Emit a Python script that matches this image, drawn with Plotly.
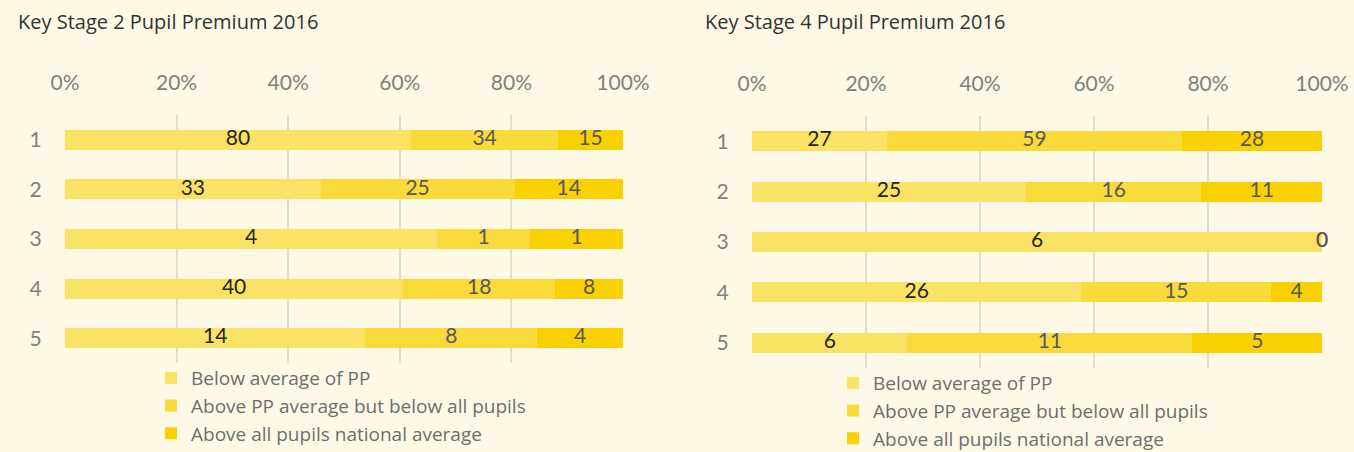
import plotly.graph_objects as go

categories = ["1", "2", "3", "4", "5"]
series_names = ["Below average of PP",
                "Above PP average but below all pupils",
                "Above all pupils national average"]
ks2_below = [80, 33, 4, 40, 14]
ks2_above_pp = [34, 25, 1, 18, 8]
ks2_above_all = [15, 14, 1, 8, 4]
ks4_below = [27, 25, 6, 26, 6]
ks4_above_pp = [59, 16, 0, 15, 11]
ks4_above_all = [28, 11, 0, 4, 5]
tick_vals = [0, 20, 40, 60, 80, 100]
tick_text = ["0%", "20%", "40%", "60%", "80%", "100%"]
titles = ["Key Stage 2 Pupil Premium 2016", "Key Stage 4 Pupil Premium 2016"]

colors = ["#FAE265", "#F9DA3B", "#F9D000"]
label_colors = ["#262626", "#595959", "#595959"]
BG = "#FEF9E7"
GRID = "#E2DDCC"
FONT = "Lato"
W, H = 1354, 452

fig = go.Figure()


def add_chart(series, xa, ya, legend):
    totals = [sum(v) for v in zip(*series)]
    cum = [0.0] * len(categories)
    for i, (name, vals) in enumerate(zip(series_names, series)):
        pct = [v / t * 100 for v, t in zip(vals, totals)]
        mids = [c + p / 2 for c, p in zip(cum, pct)]
        cum = [c + p for c, p in zip(cum, pct)]
        fig.add_trace(go.Bar(
            y=categories, x=pct, orientation="h", name=name,
            marker=dict(color=colors[i], line=dict(width=0)),
            xaxis=xa, yaxis=ya, legend=legend, hoverinfo="skip",
        ))
        fig.add_trace(go.Scatter(
            y=categories, x=mids, mode="text", text=[str(v) for v in vals],
            textposition="middle center",
            textfont=dict(family=FONT, size=21, color=label_colors[i]),
            xaxis=xa, yaxis=ya, showlegend=False, cliponaxis=False,
            hoverinfo="skip",
        ))


add_chart([ks2_below, ks2_above_pp, ks2_above_all], "x", "y", "legend")
add_chart([ks4_below, ks4_above_pp, ks4_above_all], "x2", "y2", "legend2")


def xaxis(x0, x1, anchor):
    return dict(domain=[x0 / W, x1 / W], range=[0, 100], anchor=anchor,
                side="top", tickvals=tick_vals, ticktext=tick_text,
                showgrid=True, gridcolor=GRID, gridwidth=1.5,
                zeroline=False, showline=False, automargin=False,
                ticks="outside", ticklen=16, tickcolor="rgba(0,0,0,0)",
                tickfont=dict(family=FONT, size=21, color="#808080"),
                fixedrange=True)


def yaxis(y0, y1, anchor):
    return dict(domain=[1 - y1 / H, 1 - y0 / H], anchor=anchor,
                range=[len(categories) - 0.5, -0.5], type="category",
                showgrid=False, zeroline=False, showline=False,
                automargin=False,
                ticks="outside", ticklen=18, tickcolor="rgba(0,0,0,0)",
                tickfont=dict(family=FONT, size=21, color="#808080"),
                fixedrange=True)


def legend(x, y):
    return dict(x=x / W, y=1 - y / H, xanchor="left", yanchor="top",
                traceorder="normal", bgcolor="rgba(0,0,0,0)",
                font=dict(family="Open Sans", size=19, color="#6E6E6E"),
                tracegroupgap=0, itemwidth=30)


fig.update_layout(
    width=W, height=H,
    paper_bgcolor=BG, plot_bgcolor=BG,
    margin=dict(l=0, r=0, t=0, b=0, autoexpand=False),
    barmode="stack", bargap=0.6,
    showlegend=True,
    xaxis=xaxis(65, 623, "y"),
    yaxis=yaxis(115, 363, "x"),
    xaxis2=xaxis(752, 1322, "y2"),
    yaxis2=yaxis(116, 368, "x2"),
    legend=legend(151, 359),
    legend2=legend(833, 364),
    annotations=[
        dict(text=titles[0], x=16 / W, y=1 - 21 / H, xref="paper", yref="paper",
             xanchor="left", yanchor="middle", showarrow=False,
             font=dict(family="Open Sans", size=20, color="#333333")),
        dict(text=titles[1], x=703 / W, y=1 - 21 / H, xref="paper", yref="paper",
             xanchor="left", yanchor="middle", showarrow=False,
             font=dict(family="Open Sans", size=20, color="#333333")),
    ],
)

fig.write_html(
    "out.html",
    config={"displayModeBar": False},
    post_script="document.body.style.margin='0';"
                "document.body.style.background='#FEF9E7';",
)
